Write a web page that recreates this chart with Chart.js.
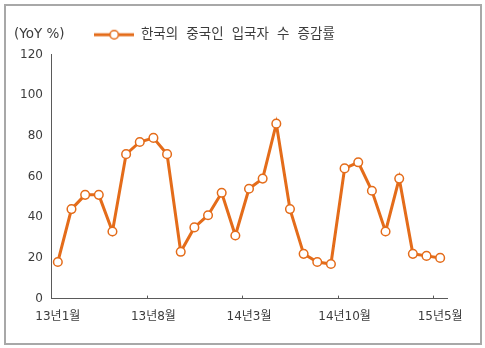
<!DOCTYPE html>
<html>
<head>
<meta charset="utf-8">
<script src="https://cdn.jsdelivr.net/npm/chart.js@4.4.0/dist/chart.umd.min.js"></script>
<style>
  html, body { margin: 0; padding: 0; background: #fff; }
  #frame { position: absolute; left: 4px; top: 4px; width: 474px; height: 337px; border: 2px solid #a8a8a8; }
  #wrap { position: absolute; left: 0; top: 0; width: 485px; height: 348px; }
</style>
</head>
<body>
<div id="frame"></div>
<div id="wrap"><canvas id="yoyChart"></canvas></div>
<script>
  // monthly categories, 13년1월 .. 15년5월
  const months = [
    '13년1월', '13년2월', '13년3월', '13년4월', '13년5월', '13년6월', '13년7월', '13년8월',
    '13년9월', '13년10월', '13년11월', '13년12월', '14년1월', '14년2월', '14년3월', '14년4월',
    '14년5월', '14년6월', '14년7월', '14년8월', '14년9월', '14년10월', '14년11월', '14년12월',
    '15년1월', '15년2월', '15년3월', '15년4월', '15년5월'
  ];
  const yoyChange = [
    18, 44, 51, 51, 33, 71, 77, 79, 71, 23, 35, 41, 52, 31, 54,
    59, 86, 44, 22, 18, 17, 64, 67, 53, 33, 59, 22, 21, 20
  ];
  const seriesName = '한국의 중국인 입국자 수 증감률';
  const unitLabel = '(YoY %)';
  const labelEvery = 7;

  const orange = '#e46c1a';
  const textColor = '#3c3c3c';
  const axisColor = '#5a5a5a';

  // legend marker: short line with an open circle in the middle
  const marker = document.createElement('canvas');
  marker.width = 40;
  marker.height = 12;
  (function () {
    const m = marker.getContext('2d');
    m.strokeStyle = orange;
    m.lineWidth = 3;
    m.beginPath();
    m.moveTo(0, 6);
    m.lineTo(40, 6);
    m.stroke();
    m.beginPath();
    m.arc(20, 6, 4.2, 0, Math.PI * 2);
    m.fillStyle = '#fff';
    m.fill();
    m.lineWidth = 1.5;
    m.stroke();
  })();

  // inward tick marks between category groups + unit label
  const axisMarks = {
    id: 'axisMarks',
    afterDraw(chart) {
      const { ctx, chartArea, scales: { x } } = chart;
      ctx.save();
      ctx.strokeStyle = axisColor;
      ctx.lineWidth = 1;
      for (let i = labelEvery; i < months.length; i += labelEvery) {
        const px = Math.round(x.getPixelForValue(i - 0.5)) + 0.5;
        ctx.beginPath();
        ctx.moveTo(px, chartArea.bottom);
        ctx.lineTo(px, chartArea.bottom - 3);
        ctx.stroke();
      }
      ctx.fillStyle = textColor;
      ctx.font = '13.5px "DejaVu Sans"';
      ctx.textBaseline = 'middle';
      ctx.fillText(unitLabel, 14, 34);
      ctx.restore();
    }
  };

  new Chart(document.getElementById('yoyChart'), {
    type: 'line',
    data: {
      labels: months,
      datasets: [{
        label: seriesName,
        data: yoyChange,
        borderColor: orange,
        borderWidth: 3,
        tension: 0,
        pointRadius: 4.3,
        pointBorderWidth: 1.5,
        pointBackgroundColor: '#fff',
        pointBorderColor: orange
      }]
    },
    options: {
      responsive: true,
      maintainAspectRatio: false,
      animation: false,
      // negative left padding nudges the centred legend row leftwards
      layout: { padding: { top: 18, right: 38, bottom: 13, left: -18 } },
      plugins: {
        legend: {
          position: 'top',
          align: 'center',
          labels: {
            usePointStyle: true,
            pointStyle: marker,
            pointStyleWidth: 40,
            padding: 10,
            color: textColor,
            font: { family: '"Liberation Mono", "Noto Sans CJK KR"', size: 13.5 }
          }
        },
        // thin gap between legend row and plot
        subtitle: {
          display: true,
          text: '',
          weight: 500,
          padding: { top: 0, bottom: 2 },
          font: { size: 1, lineHeight: 1 }
        },
        tooltip: { enabled: false }
      },
      scales: {
        x: {
          offset: true,
          grid: { display: false, drawTicks: false },
          border: { display: true, color: axisColor, width: 1 },
          ticks: {
            autoSkip: false,
            maxRotation: 0,
            padding: 11,
            color: textColor,
            font: { family: '"DejaVu Sans", "Noto Sans CJK KR"', size: 12 },
            callback: function (v, i) { return i % labelEvery === 0 ? months[i] : ''; }
          }
        },
        y: {
          min: 0,
          max: 120,
          afterFit: function (axis) { axis.width = 69; },
          grid: { display: false, drawTicks: false },
          border: { display: true, color: axisColor, width: 1 },
          ticks: {
            stepSize: 20,
            padding: 8,
            color: textColor,
            font: { family: '"DejaVu Sans"', size: 12 }
          }
        }
      }
    },
    plugins: [axisMarks]
  });
</script>
</body>
</html>
